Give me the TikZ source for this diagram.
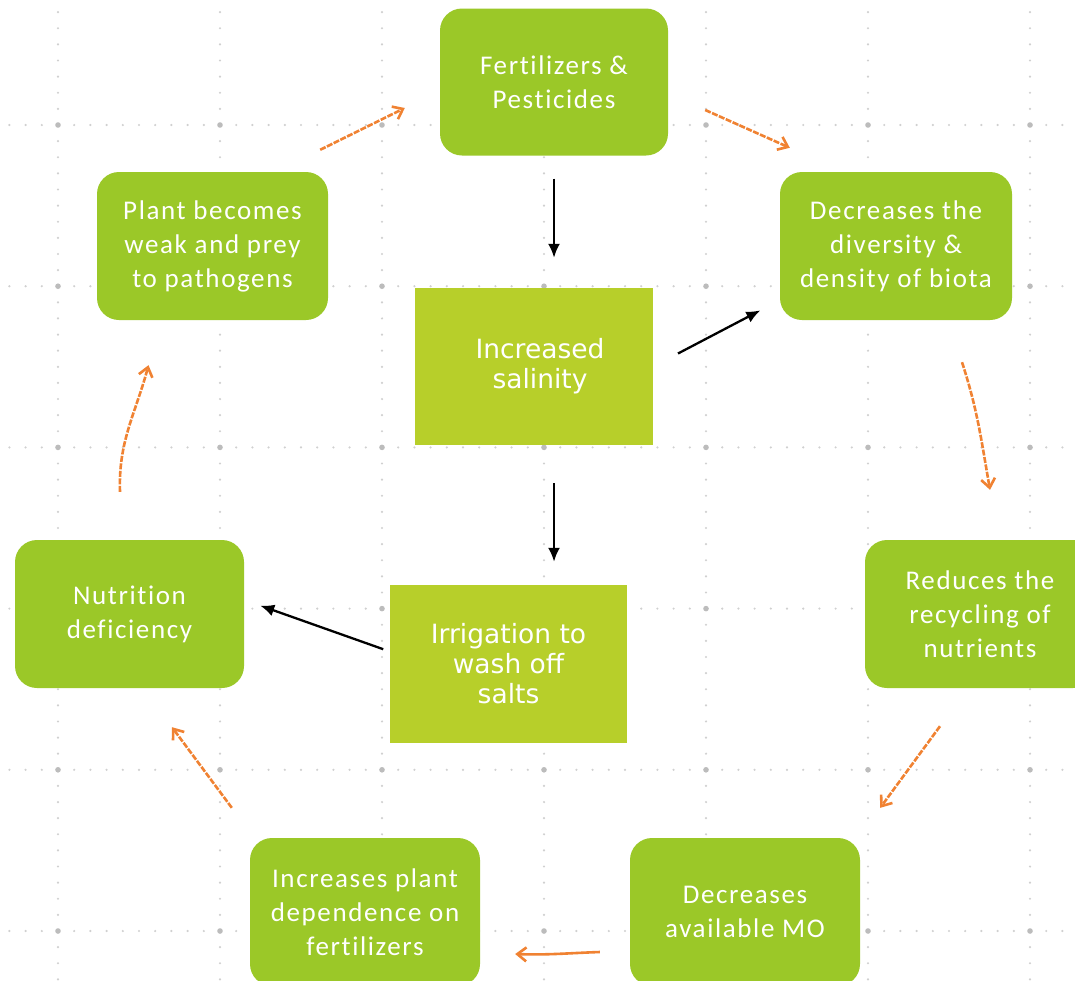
\documentclass[tikz,border=0pt]{standalone}
\usepackage{fontspec}
\usetikzlibrary{arrows.meta}
\newfontfamily\calibfont[LetterSpace=6,Ligatures={NoCommon,NoContextual}]{Carlito}
\newfontfamily\verdfont{DejaVu Sans}
\definecolor{roundgreen}{RGB}{155,200,40}
\definecolor{rectgreen}{RGB}{183,207,42}
\definecolor{arrorange}{RGB}{240,130,50}
\definecolor{dotgray}{RGB}{208,208,208}
\definecolor{crossgray}{RGB}{188,188,188}
\tikzset{
  cyclebox/.style={draw=none, fill=roundgreen, rounded corners=22pt, inner sep=0pt,
    minimum width=230pt, minimum height=148pt, text=white, align=center,
    font=\calibfont\fontsize{27}{34}\selectfont},
  centerbox/.style={draw=none, fill=rectgreen, inner sep=0pt,
    minimum width=238pt, minimum height=158pt, text=white, align=center,
    font=\verdfont\fontsize{26.5}{30}\selectfont},
  blackarrow/.style={draw=black, line width=2.3pt, -{Latex[length=14pt,width=12pt]}},
  orangearrow/.style={draw=arrorange, line width=2.6pt, -{Straight Barb[length=9pt,width=14pt]}},
  sketchy/.style={dash pattern=on 6pt off 1.5pt},
  minordot/.style={fill=dotgray},
  majordot/.style={fill=crossgray},
}
\begin{document}
\begin{tikzpicture}[x=1pt,y=-1pt]
\useasboundingbox (0,0) rectangle (1075,980);
\fill[white] (0,0) rectangle (1075,980);
% dotted grid
\foreach \r in {0,...,5}{
  \foreach \k in {-3,...,63}{
    \fill[minordot] ({58+16.2*\k},{125+161.2*\r}) circle (1.2pt);
  }
}
\foreach \c in {0,...,6}{
  \foreach \k in {-8,...,53}{
    \fill[minordot] ({58+162*\c},{125+16.12*\k}) circle (1.2pt);
  }
}
\foreach \r in {0,...,5}{
  \foreach \c in {0,...,6}{
    \fill[majordot] ({58+162*\c},{125+161.2*\r}) circle (2.8pt);
  }
}
% nodes
\node[cyclebox, minimum width=228pt, minimum height=147pt] (fert) at (554,82) {Fertilizers \&\\Pesticides};
\node[cyclebox, minimum width=232pt] (div) at (896,246) {Decreases the\\diversity \&\\density of biota};
\node[cyclebox] (rec) at (980,614) {Reduces the\\recycling of\\nutrients};
\node[cyclebox] (mo) at (745,912) {Decreases\\available MO};
\node[cyclebox] (dep) at (365,912) {Increases plant\\dependence on\\fertilizers};
\node[cyclebox, minimum width=229pt] (nut) at (129.5,614) {Nutrition\\deficiency};
\node[cyclebox, minimum width=231pt] (plant) at (212.5,246) {Plant becomes\\weak and prey\\to pathogens};
\node[centerbox, minimum height=157pt] (sal) at (534,366.5) {\hspace*{12pt}Increased\\\hspace*{12pt}salinity};
\node[centerbox, minimum width=237pt] (irr) at (508.5,664) {Irrigation to\\wash off\\salts};
% black arrows
\draw[blackarrow, shorten <=23pt, shorten >=30pt] (fert.south) -- (fert.south |- sal.north);
\draw[blackarrow, shorten <=28pt, shorten >=22pt] (sal.east) -- (div.-155);
\draw[blackarrow, shorten <=38pt, shorten >=23pt] (sal.south -| fert.south) -- (irr.north -| fert.south);
\draw[blackarrow, shorten <=7pt, shorten >=17pt] (irr.174) -- (nut.7);
% orange cycle arrows
\draw[orangearrow, sketchy] ([xshift=-8pt,yshift=22pt]plant.north east) -- ([xshift=-35pt,yshift=-26pt]fert.west);
\draw[orangearrow, sketchy] ([xshift=37pt,yshift=-28pt]fert.east) -- ([xshift=10pt,yshift=24pt]div.north west);
\draw[orangearrow, sketchy] ([xshift=66pt,yshift=-42pt]div.south) to[out=-72,in=100] ([xshift=10pt,yshift=50pt]rec.north);
\draw[orangearrow, sketchy] ([xshift=-40pt,yshift=-38pt]rec.south) -- ([xshift=20pt,yshift=30pt]mo.north east);
\draw[orangearrow] ([xshift=-30pt,yshift=-40pt]mo.west) to[out=182,in=-2] ([xshift=35pt,yshift=-42pt]dep.east);
\draw[orangearrow, sketchy] ([xshift=-18pt,yshift=30pt]dep.north west) -- ([xshift=42.5pt,yshift=-39pt]nut.south);
\draw[orangearrow, sketchy] ([xshift=-9.5pt,yshift=48pt]nut.north) to[out=92,in=-105] ([xshift=-64pt,yshift=-45pt]plant.south);
\end{tikzpicture}
\end{document}
